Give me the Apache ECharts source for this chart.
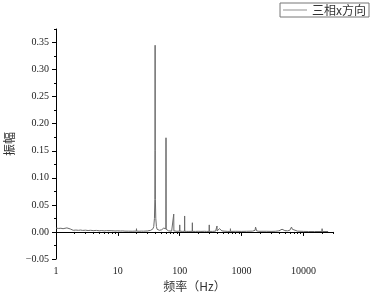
<!DOCTYPE html>
<html>
<head>
<meta charset="utf-8">
<script src="https://cdn.jsdelivr.net/npm/echarts@6/dist/echarts.min.js"></script>
<style>html,body{margin:0;padding:0;background:#fff;}#c{width:370px;height:294px;}</style>
</head>
<body>
<div id="c"></div>
<script>
var freq = [1,1.1,1.2,1.3,1.4,1.5,1.6,1.7,1.8,1.9,2.0,2.1,2.3,2.5,2.7,3.0,3.3,3.6,4.0,4.5,5,5.5,6,6.5,7,8,9,10,11,12,13,14,15,16,17,18,19.9,20,20.1,22,24,26,28,30,32,34,36,37,38,39,39.6,39.85,40,40.15,40.4,41,42,43,45,47,49,50,51,52,53,55,57,59.7,60,60.3,63,66,70,74,79.6,80,80.4,86,90,95,99.5,100,100.5,105,110,115,119.4,120,120.6,130,139.3,140,140.7,150,159.2,160,160.8,170,180,200,220,250,270,298.5,300,301.5,340,380,398,400,402,420,440,450,460,480,500,520,600,657,660,663,800,1000,1200,1500,1650,1680,1700,1750,1900,1990,2000,2010,2500,3000,3500,4000,4300,4500,4700,5000,5500,6000,6400,6600,7000,8000,10000,12000,15000,19900,20000,20100,25000];
var amp = [0.0070,0.0065,0.0068,0.0060,0.0072,0.0075,0.0070,0.0055,0.0040,0.0030,0.0025,0.0035,0.0030,0.0035,0.0028,0.0032,0.0026,0.0030,0.0025,0.0028,0.0022,0.0026,0.0020,0.0024,0.0020,0.0023,0.0018,0.0021,0.0017,0.0019,0.0015,0.0018,0.0014,0.0016,0.0013,0.0015,0.0016,0.0060,0.0016,0.0013,0.0015,0.0014,0.0016,0.0018,0.0022,0.0030,0.0045,0.0060,0.010,0.025,0.06,0.15,0.345,0.15,0.06,0.025,0.010,0.005,0.003,0.003,0.004,0.006,0.004,0.006,0.005,0.007,0.004,0.006,0.174,0.005,0.003,0.002,0.002,0.0015,0.0015,0.033,0.002,0.0015,0.0012,0.0015,0.0015,0.013,0.0015,0.0012,0.001,0.0012,0.0012,0.0295,0.0012,0.001,0.001,0.0035,0.001,0.001,0.001,0.017,0.001,0.002,0.001,0.0012,0.001,0.0012,0.001,0.001,0.013,0.001,0.001,0.0015,0.0015,0.011,0.002,0.003,0.006,0.008,0.004,0.002,0.004,0.0015,0.001,0.001,0.006,0.001,0.0012,0.001,0.0012,0.0015,0.003,0.009,0.006,0.002,0.0012,0.001,0.003,0.001,0.0012,0.001,0.0012,0.002,0.004,0.005,0.003,0.0025,0.002,0.003,0.009,0.005,0.002,0.0015,0.001,0.0008,0.0008,0.0008,0.006,0.0008,0.0008];
var xMajorTicks = [1,10,100,1000,10000];
var xMinorTicks = [2,3,4,5,6,7,8,9,20,30,40,50,60,70,80,90,200,300,400,500,600,700,800,900,2000,3000,4000,5000,6000,7000,8000,9000,20000,30000];
var yMajorTicks = [-0.05,0,0.05,0.1,0.15,0.2,0.25,0.3,0.35];
var yMinorTicks = [-0.025,0.025,0.075,0.125,0.175,0.225,0.275,0.325,0.375];
var seriesName = '三相x方向';
var xName = '频率（Hz）';
var yName = '振幅';

var serif = 'Liberation Serif';
var cjk = '"Noto Sans CJK SC"';
var data = freq.map(function(f, i){ return [f, amp[i]]; });

var chart = echarts.init(document.getElementById('c'), null, {renderer:'canvas'});
chart.setOption({
  animation: false,
  backgroundColor: '#fff',
  grid: {left: 56, right: 37, top: 29, bottom: 35, containLabel: false, outerBoundsMode: 'none'},
  legend: {
    right: 1, top: 3,
    data: [seriesName],
    icon: 'rect',
    borderColor: '#777', borderWidth: 1, borderRadius: 0,
    padding: [1, 3, 1, 3],
    itemWidth: 24, itemHeight: 1, itemGap: 6,
    itemStyle: {color: '#909090'},
    textStyle: {fontFamily: cjk, fontSize: 12, color: '#333'}
  },
  xAxis: [{
    type: 'log', logBase: 10, min: 1, max: 30000,
    name: xName, nameLocation: 'middle', nameGap: 20,
    nameTextStyle: {fontFamily: cjk, fontSize: 12, color: '#333'},
    axisLine: {lineStyle: {color: '#000', width: 1}},
    axisTick: {show: true, length: 4, inside: false, customValues: xMajorTicks, lineStyle: {color: '#000'}},
    axisLabel: {fontFamily: serif, fontSize: 10, color: '#222', margin: 7, customValues: xMajorTicks,
      formatter: function(v){ return String(Math.round(v)); }},
    splitLine: {show: false}
  }, {
    type: 'log', logBase: 10, min: 1, max: 30000, position: 'bottom',
    axisLine: {show: false},
    axisTick: {show: true, length: 2, inside: false, customValues: xMinorTicks, lineStyle: {color: '#000'}},
    axisLabel: {show: false},
    splitLine: {show: false}
  }],
  yAxis: [{
    type: 'value', min: -0.05, max: 0.375, interval: 0.05,
    name: yName, nameLocation: 'middle', nameGap: 31, nameRotate: 90,
    nameTextStyle: {fontFamily: cjk, fontSize: 12, color: '#333'},
    axisLine: {show: true, lineStyle: {color: '#000', width: 1}},
    axisTick: {show: true, length: 4, inside: false, customValues: yMajorTicks, lineStyle: {color: '#000'}},
    axisLabel: {fontFamily: serif, fontSize: 10, color: '#222', margin: 7, customValues: yMajorTicks,
      formatter: function(v){ return (v < 0 ? '−' : '') + Math.abs(v).toFixed(2); }},
    splitLine: {show: false}
  }, {
    type: 'value', min: -0.05, max: 0.375, position: 'left',
    axisLine: {show: false},
    axisTick: {show: true, length: 2, inside: false, customValues: yMinorTicks, lineStyle: {color: '#000'}},
    axisLabel: {show: false},
    splitLine: {show: false}
  }],
  series: [{
    name: seriesName, type: 'line', data: data,
    xAxisIndex: 0, yAxisIndex: 0,
    symbol: 'none', showSymbol: false,
    lineStyle: {color: '#6a6a6a', width: 1},
    itemStyle: {color: '#909090'}
  }]
});
</script>
</body>
</html>
